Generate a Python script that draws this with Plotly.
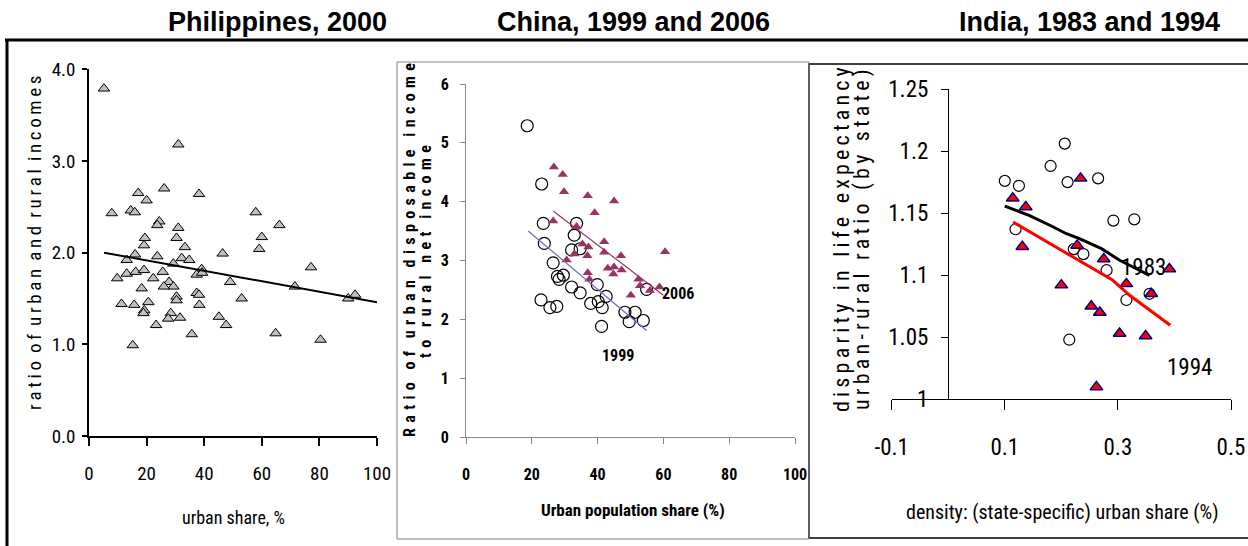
import plotly.graph_objects as go

W, H = 1248, 546

# ---------------- data ----------------
# Philippines, 2000
ph_urban_share = [5.2, 31.0, 17.1, 26.1, 38.2, 20.0, 7.9, 14.5, 15.9, 57.9, 66.1, 24.4, 23.7, 31.0,
                  60.0, 19.4, 30.4, 19.1, 59.1, 33.3, 46.4, 16.0, 23.7, 32.2, 13.1, 34.8, 29.3, 39.1,
                  77.1, 9.8, 13.1, 16.2, 19.1, 25.6, 22.3, 37.4, 39.3, 49.0, 71.5, 27.8, 29.3, 18.3,
                  26.0, 90.0, 92.4, 30.4, 37.4, 38.2, 53.0, 11.3, 15.7, 19.2, 18.9, 20.6, 30.4, 38.3,
                  28.4, 27.5, 31.6, 23.3, 45.1, 47.6, 35.7, 64.8, 80.4, 15.2]
ph_ratio = [3.79, 3.18, 2.65, 2.70, 2.64, 2.57, 2.43, 2.46, 2.44, 2.44, 2.30, 2.34, 2.30, 2.27,
            2.17, 2.16, 2.16, 2.08, 2.04, 2.06, 1.99, 1.98, 1.96, 1.94, 1.92, 1.92, 1.88, 1.82,
            1.84, 1.72, 1.77, 1.79, 1.81, 1.79, 1.72, 1.76, 1.78, 1.68, 1.63, 1.68, 1.63, 1.61,
            1.63, 1.50, 1.54, 1.52, 1.56, 1.54, 1.50, 1.44, 1.43, 1.37, 1.34, 1.46, 1.48, 1.43,
            1.34, 1.28, 1.29, 1.21, 1.30, 1.21, 1.11, 1.12, 1.05, 0.99]
ph_trend_x = [5.2, 100.0]
ph_trend_y = [2.00, 1.46]

# China, 1999 and 2006
cn1999_share = [18.6, 23.0, 23.5, 23.8, 26.5, 27.8, 29.6, 28.3, 33.6, 32.9, 32.1, 34.7, 32.1, 34.7,
                39.9, 42.6, 22.8, 25.5, 27.6, 37.9, 40.2, 41.4, 41.2, 48.3, 49.6, 51.4, 53.9, 54.9]
cn1999_ratio = [5.29, 4.30, 3.63, 3.29, 2.96, 2.73, 2.75, 2.68, 3.63, 3.43, 3.18, 3.20, 2.55, 2.45,
                2.59, 2.39, 2.33, 2.20, 2.22, 2.27, 2.30, 2.20, 1.88, 2.12, 1.96, 2.12, 1.98, 2.51]
cn2006_share = [26.7, 29.4, 29.8, 37.0, 45.0, 39.1, 26.5, 33.6, 35.4, 37.2, 42.0, 42.0, 30.6, 32.9,
                36.9, 47.1, 60.5, 37.0, 37.5, 43.1, 45.0, 44.8, 47.3, 52.4, 52.9, 55.9, 58.8, 50.1]
cn2006_ratio = [4.59, 4.46, 4.17, 4.10, 4.01, 3.81, 3.67, 3.58, 3.28, 3.23, 3.32, 3.14, 3.01, 3.11,
                3.08, 3.08, 3.15, 2.79, 2.68, 2.87, 2.89, 2.77, 2.84, 2.68, 2.57, 2.49, 2.55, 2.41]
cn1999_trend_x = [18.9, 54.9]
cn1999_trend_y = [3.50, 1.81]
cn2006_trend_x = [26.5, 60.0]
cn2006_trend_y = [3.84, 2.41]

# India, 1983 and 1994
in1983_density = [0.100, 0.125, 0.119, 0.181, 0.206, 0.211, 0.265, 0.292, 0.329, 0.222, 0.239,
                  0.280, 0.315, 0.356, 0.214]
in1983_disparity = [1.176, 1.172, 1.137, 1.188, 1.206, 1.175, 1.178, 1.144, 1.145, 1.121, 1.117,
                    1.104, 1.080, 1.085, 1.048]
in1994_density = [0.114, 0.137, 0.131, 0.234, 0.228, 0.275, 0.200, 0.315, 0.359, 0.391, 0.253,
                  0.268, 0.303, 0.349, 0.262]
in1994_disparity = [1.162, 1.155, 1.123, 1.178, 1.124, 1.113, 1.092, 1.093, 1.085, 1.105, 1.075,
                    1.070, 1.053, 1.051, 1.010]
in1983_trend_x = [0.100, 0.144, 0.185, 0.209, 0.232, 0.271, 0.303, 0.356]
in1983_trend_y = [1.1556, 1.148, 1.139, 1.1334, 1.1294, 1.1214, 1.112, 1.0999]
in1994_trend_x = [0.1147, 0.209, 0.291, 0.3207, 0.3925]
in1994_trend_y = [1.1428, 1.1174, 1.0959, 1.0838, 1.0597]

ph_xticks = [0, 20, 40, 60, 80, 100]
ph_yticks = [0.0, 1.0, 2.0, 3.0, 4.0]
cn_xticks = [0, 20, 40, 60, 80, 100]
cn_yticks = [0, 1, 2, 3, 4, 5, 6]
in_xticks = [-0.1, 0.1, 0.3, 0.5]
in_xticktext = ["-0.1", "0.1", "0.3", "0.5"]
in_yticks = [1.0, 1.05, 1.1, 1.15, 1.2, 1.25]
in_yticktext = ["1", "1.05", "1.1", "1.15", "1.2", "1.25"]

titles = ["Philippines, 2000", "China, 1999 and 2006", "India, 1983 and 1994"]

# ---------------- helpers ----------------
def px(x):
    return x / W

def py(y):
    return 1 - y / H

NARROW = "Liberation Sans Narrow, Arial Narrow, Roboto Condensed, Liberation Sans, Arial, sans-serif"
ARIAL = "Liberation Sans, Arial, sans-serif"

def spaced(text, sep="\u2009", wordsep="\u00a0\u2009"):
    words = text.split(" ")
    return wordsep.join(sep.join(list(w)) for w in words)

fig = go.Figure()

# Philippines
fig.add_trace(go.Scatter(x=ph_urban_share, y=ph_ratio, mode="markers", xaxis="x", yaxis="y",
                         marker=dict(symbol="triangle-up", size=10, color="#C0C0C0",
                                     line=dict(color="#000000", width=1)), showlegend=False))
fig.add_trace(go.Scatter(x=ph_trend_x, y=ph_trend_y, mode="lines", xaxis="x", yaxis="y",
                         line=dict(color="#000000", width=2), showlegend=False))

# China
fig.add_trace(go.Scatter(x=cn1999_share, y=cn1999_ratio, mode="markers", xaxis="x2", yaxis="y2",
                         marker=dict(symbol="circle-open", size=12, color="#000000",
                                     line=dict(color="#000000", width=1.2)), showlegend=False))
fig.add_trace(go.Scatter(x=cn2006_share, y=cn2006_ratio, mode="markers", xaxis="x2", yaxis="y2",
                         marker=dict(symbol="triangle-up", size=9, color="#993366",
                                     line=dict(width=0)), showlegend=False))
fig.add_trace(go.Scatter(x=cn1999_trend_x, y=cn1999_trend_y, mode="lines", xaxis="x2", yaxis="y2",
                         line=dict(color="#6B6FB8", width=1.2), showlegend=False))
fig.add_trace(go.Scatter(x=cn2006_trend_x, y=cn2006_trend_y, mode="lines", xaxis="x2", yaxis="y2",
                         line=dict(color="#993366", width=1.2), showlegend=False))

# India
fig.add_trace(go.Scatter(x=in1983_density, y=in1983_disparity, mode="markers", xaxis="x3", yaxis="y3",
                         marker=dict(symbol="circle-open", size=11, color="#000000",
                                     line=dict(color="#000000", width=1.2)), showlegend=False))
fig.add_trace(go.Scatter(x=in1994_density, y=in1994_disparity, mode="markers", xaxis="x3", yaxis="y3",
                         marker=dict(symbol="triangle-up", size=11, color="#FF0000",
                                     line=dict(color="#000080", width=1.5)), showlegend=False))
fig.add_trace(go.Scatter(x=in1983_trend_x, y=in1983_trend_y, mode="lines", xaxis="x3", yaxis="y3",
                         line=dict(color="#000000", width=3), showlegend=False))
fig.add_trace(go.Scatter(x=in1994_trend_x, y=in1994_trend_y, mode="lines", xaxis="x3", yaxis="y3",
                         line=dict(color="#FF0000", width=3), showlegend=False))

axis_common = dict(showgrid=False, zeroline=False, showline=True, ticks="outside", mirror=False,
                   automargin=False)

layout = dict(
    width=W, height=H,
    margin=dict(l=0, r=0, t=0, b=0, pad=0, autoexpand=False),
    paper_bgcolor="white", plot_bgcolor="rgba(0,0,0,0)",
    showlegend=False,
    xaxis=dict(axis_common, domain=[px(89), px(377)], range=[0, 100], anchor="y",
               tickvals=ph_xticks, ticklen=8, linecolor="#000000", linewidth=1.5,
               tickcolor="#000000", tickwidth=1.5, ticklabelstandoff=11,
               tickfont=dict(family=NARROW, size=19, color="#000000")),
    yaxis=dict(axis_common, domain=[py(436), py(69.3)], range=[0, 4], anchor="x",
               tickvals=ph_yticks, tickformat=".1f", ticklen=5, linecolor="#000000", linewidth=1.5,
               tickcolor="#000000", tickwidth=1.5, ticklabelstandoff=3,
               tickfont=dict(family=NARROW, size=19, color="#000000")),
    xaxis2=dict(axis_common, domain=[px(466), px(795)], range=[0, 100], anchor="y2",
                tickvals=cn_xticks, ticklen=6, linecolor="#888888", linewidth=1,
                tickcolor="#888888", ticklabelstandoff=17,
                tickfont=dict(family=NARROW, size=16, color="#000000", weight="bold")),
    yaxis2=dict(axis_common, domain=[py(437), py(84)], range=[0, 6], anchor="x2",
                tickvals=cn_yticks, ticklen=5, linecolor="#888888", linewidth=1,
                tickcolor="#888888", ticklabelstandoff=8,
                tickfont=dict(family=NARROW, size=16, color="#000000", weight="bold")),
    xaxis3=dict(axis_common, domain=[px(891.7), px(1231)], range=[-0.1, 0.5], anchor="y3",
                tickvals=in_xticks, ticktext=in_xticktext, ticklen=10, linecolor="#000000",
                linewidth=1, tickcolor="#000000", ticklabelstandoff=17,
                tickfont=dict(family=NARROW, size=23, color="#000000")),
    yaxis3=dict(axis_common, domain=[py(399.3), py(89)], range=[1.0, 1.25], anchor="free",
                position=px(948), tickvals=in_yticks, ticktext=in_yticktext, ticklen=7,
                linecolor="#000000", linewidth=1, tickcolor="#000000", ticklabelstandoff=8,
                tickfont=dict(family=NARROW, size=23, color="#000000")),
)
fig.update_layout(**layout)

shapes = [
    # outer frame lines
    dict(type="line", xref="paper", yref="paper", x0=px(5), x1=px(1248), y0=py(40), y1=py(40),
         line=dict(color="#000000", width=3)),
    dict(type="line", xref="paper", yref="paper", x0=px(7), x1=px(7), y0=py(40), y1=py(546),
         line=dict(color="#000000", width=3)),
    # China panel frame
    dict(type="rect", xref="paper", yref="paper", x0=px(397), x1=px(809), y0=py(539), y1=py(62),
         line=dict(color="#808080", width=1)),
    # India panel frame
    dict(type="rect", xref="paper", yref="paper", x0=px(809), x1=px(1252), y0=py(538), y1=py(64),
         line=dict(color="#000000", width=1.5), fillcolor="white", layer="below"),
]
fig.update_layout(shapes=shapes)

ann = []
# Panel titles
for t, cx in zip(titles, [277, 633, 1089]):
    ann.append(dict(text=t, x=px(cx), y=py(22), xref="paper", yref="paper", showarrow=False,
                    xanchor="center", yanchor="middle",
                    font=dict(family=ARIAL, size=27, color="#000000", weight="bold")))

# Philippines axis titles
ann.append(dict(text=spaced("ratio of urban and rural incomes"), x=px(35), y=py(243),
                xref="paper", yref="paper", showarrow=False, textangle=-90,
                xanchor="center", yanchor="middle",
                font=dict(family=NARROW, size=19, color="#000000")))
ann.append(dict(text="urban share, %", x=px(233), y=py(517), xref="paper", yref="paper",
                showarrow=False, xanchor="center", yanchor="middle",
                font=dict(family=NARROW, size=18, color="#000000")))

# China axis titles
cn_sep = "\u00a0\u200a"
cn_wsep = "\u00a0\u00a0\u00a0\u200a"
ann.append(dict(text=spaced("Ratio of urban disposable income", sep=cn_sep, wordsep=cn_wsep),
                x=px(410), y=py(250), xref="paper", yref="paper", showarrow=False, textangle=-90,
                xanchor="center", yanchor="middle",
                font=dict(family=NARROW, size=16, color="#000000", weight="bold")))
ann.append(dict(text=spaced("to rural net income", sep=cn_sep, wordsep=cn_wsep),
                x=px(425), y=py(252), xref="paper", yref="paper", showarrow=False, textangle=-90,
                xanchor="center", yanchor="middle",
                font=dict(family=NARROW, size=16, color="#000000", weight="bold")))
ann.append(dict(text="Urban population share (%)", x=px(633), y=py(510), xref="paper", yref="paper",
                showarrow=False, xanchor="center", yanchor="middle",
                font=dict(family=NARROW, size=17, color="#000000", weight="bold")))
ann.append(dict(text="2006", x=px(678), y=py(293), xref="paper", yref="paper", showarrow=False,
                xanchor="center", yanchor="middle",
                font=dict(family=NARROW, size=16, color="#000000", weight="bold")))
ann.append(dict(text="1999", x=px(618), y=py(355), xref="paper", yref="paper", showarrow=False,
                xanchor="center", yanchor="middle",
                font=dict(family=NARROW, size=16, color="#000000", weight="bold")))

# India axis titles
ann.append(dict(text=spaced("disparity in life expectancy", sep="\u2009", wordsep="\u00a0\u2009\u2009"),
                x=px(841), y=py(240), xref="paper", yref="paper", showarrow=False, textangle=-90,
                xanchor="center", yanchor="middle",
                font=dict(family=NARROW, size=22, color="#000000")))
ann.append(dict(text=spaced("urban-rural ratio (by state)", sep="\u2009", wordsep="\u00a0\u2009\u2009"),
                x=px(862), y=py(240), xref="paper", yref="paper", showarrow=False, textangle=-90,
                xanchor="center", yanchor="middle",
                font=dict(family=NARROW, size=22, color="#000000")))
ann.append(dict(text="density: (state-specific) urban share (%)", x=px(1062), y=py(512),
                xref="paper", yref="paper", showarrow=False, xanchor="center", yanchor="middle",
                font=dict(family=NARROW, size=20, color="#000000")))
ann.append(dict(text="1983", x=px(1143), y=py(267), xref="paper", yref="paper", showarrow=False,
                xanchor="center", yanchor="middle",
                font=dict(family=NARROW, size=23, color="#000000")))
ann.append(dict(text="1994", x=px(1189), y=py(367), xref="paper", yref="paper", showarrow=False,
                xanchor="center", yanchor="middle",
                font=dict(family=NARROW, size=23, color="#000000")))

fig.update_layout(annotations=ann)

fig.write_html("out.html", config={"displayModeBar": False},
               post_script="document.body.style.margin='0px';")
